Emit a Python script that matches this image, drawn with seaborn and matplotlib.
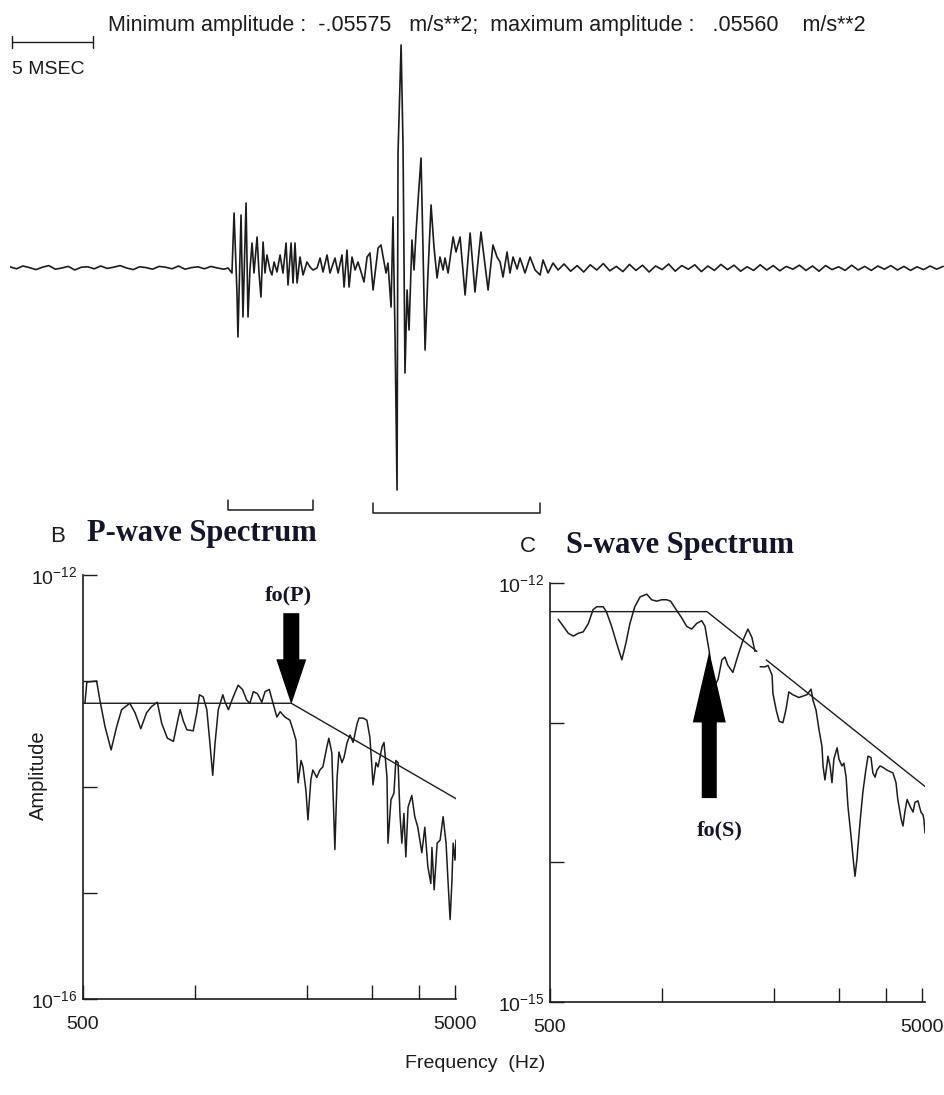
import numpy as np
import pandas as pd
import seaborn as sns
import matplotlib
matplotlib.use('Agg')
import matplotlib.pyplot as plt
from matplotlib.ticker import NullLocator

# ---- accelerogram: time in ms, acceleration in 1e-3 m/s**2 ----
pre_amp = [0.3, -0.2, 0.5, 0.1, -0.4, 0.2, 0.6, -0.3, 0.0, 0.4,
           -0.5, 0.2, 0.3, -0.2, 0.5, -0.1, 0.2, 0.6, 0.0, -0.4,
           0.3, 0.1, -0.3, 0.4, 0.2, -0.2, 0.5, -0.3, 0.1, 0.3,
           -0.2, 0.4, 0.0, -0.3]

event_time = [13.46, 13.70, 13.83, 14.01, 14.07, 14.26, 14.38, 14.57, 14.69, 14.81,
              14.94, 15.06, 15.25, 15.37, 15.49, 15.62, 15.74, 15.86, 16.05, 16.17,
              16.30, 16.48, 16.67, 16.85, 17.04, 17.16, 17.35, 17.47, 17.59, 17.72,
              17.90, 18.09, 18.33, 18.52, 18.70, 18.95, 19.14, 19.32, 19.57, 19.75,
              20.06, 20.25, 20.49, 20.62, 20.80, 20.93, 21.11, 21.30, 21.48, 21.67,
              21.85, 22.04, 22.22, 22.41, 22.72, 22.90, 23.09, 23.21, 23.33, 23.52,
              23.64, 23.77, 23.89, 23.95, 24.14, 24.26, 24.38, 24.51, 24.63, 24.81,
              24.94, 25.06, 25.19, 25.37, 25.49, 25.62, 25.80, 25.99, 26.17, 26.36,
              26.54, 26.73, 26.85, 27.04, 27.35, 27.53, 27.78, 28.09, 28.40, 28.70,
              29.07, 29.51, 29.81, 30.06, 30.25, 30.43, 30.68, 30.86, 31.05, 31.30,
              31.48, 31.79, 32.10, 32.41, 32.72, 32.90, 33.21, 33.52, 33.83]
event_amp = [0, -1.25, 13.75, -6.25, -17.25, 13.25, -12.25, 16.25, -12.25, -0.5,
             6.25, -1.25, 7.75, -1.25, -7.25, 6.5, -1.25, 3.25, -0.5, -1.75,
             1.5, -1.0, 3.25, -1.25, 6.25, -4.25, 6.25, -3.75, 6.25, -3.75,
             2.75, -1.75, 1.5, 0.25, -0.5, 0, 2.5, -1.0, 3.25, -1.25,
             2.5, -1.25, 3.25, -4.75, 4.5, -4.75, 2.75, -0.5, 1.5, -1.0,
             -3.5, 2.75, 3.75, -5.5, 5.0, 5.75, 1.5, -1.25, 1.25, -9.75,
             12.75, -18.0, -55.5, 28.75, 55.75, 30.25, -26.25, -5.5, -15.5, 7.0,
             -0.5, 8.75, 17.0, 27.5, 5.25, -20.5, -1.25, 15.75, 5.25, -2.5,
             2.75, -0.5, 2.5, -1.25, 7.75, 4.0, 7.75, -6.75, 8.75, -6.0,
             9.0, -5.5, 5.75, 2.75, 1.5, -2.25, 4.0, -1.25, 2.75, -0.25,
             2.5, -1.25, 2.75, -0.5, -1.75, 2.0, -1.25, 1.25, -0.5]

tail_amp = [1.0, -0.8, 0.6, -1.0, 0.8, -0.5, 1.1, -0.7, 0.4, -0.9,
            0.9, -0.6, 0.7, -1.0, 0.5, -0.4, 1.0, -0.8, 0.6, -0.3,
            0.8, -0.9, 0.5, -0.6, 0.9, -0.4, 0.7, -0.8, 0.3, -0.6,
            0.8, -0.5, 0.6, -0.7, 0.4, -0.3, 0.7, -0.6, 0.5, -0.8,
            0.6, -0.4, 0.3, -0.6, 0.7, -0.5, 0.4, -0.6, 0.5, -0.3,
            0.6, -0.5, 0.4, -0.6, 0.3, -0.4, 0.5, -0.3, 0.4]

# analysis windows (ms)
p_window = [13.46, 18.70]
s_window = [22.41, 32.72]

# ---- P-wave spectrum: frequency (Hz), log10 amplitude ----
p_freq = [506, 512, 544, 555, 573, 595, 616, 635, 668, 690,
          715, 741, 765, 792, 814, 843, 875, 899, 912, 931,
          951, 989, 1011, 1028, 1052, 1076, 1097, 1116, 1132, 1155,
          1188, 1205, 1230, 1267, 1306, 1342, 1377, 1405, 1435, 1472,
          1512, 1543, 1584, 1621, 1660, 1694, 1746, 1800, 1834, 1869,
          1881, 1893, 1928, 1951, 1987, 2012, 2049, 2074, 2125, 2166,
          2207, 2263, 2290, 2333, 2348, 2377, 2410, 2438, 2483, 2516,
          2564, 2612, 2661, 2729, 2760, 2831, 2898, 2952, 2990, 3010,
          3066, 3105, 3184, 3222, 3282, 3302, 3364, 3426, 3467, 3515,
          3556, 3598, 3645, 3688, 3739, 3827, 3898, 3972, 4072, 4148,
          4226, 4305, 4335, 4395, 4477, 4560, 4645, 4731, 4787, 4851,
          4907, 4943, 5000, 5031]
p_logamp = [-13.21, -13.01, -13.00, -13.18, -13.43, -13.65, -13.43, -13.27, -13.21, -13.30,
            -13.45, -13.30, -13.24, -13.20, -13.40, -13.54, -13.57, -13.37, -13.27, -13.38,
            -13.46, -13.47, -13.30, -13.13, -13.15, -13.27, -13.59, -13.89, -13.59, -13.27,
            -13.13, -13.20, -13.27, -13.15, -13.04, -13.08, -13.18, -13.21, -13.10, -13.12,
            -13.20, -13.10, -13.08, -13.21, -13.34, -13.29, -13.34, -13.37, -13.46, -13.56,
            -13.77, -13.96, -13.75, -13.81, -14.03, -14.31, -13.93, -13.84, -13.91, -13.84,
            -13.81, -13.62, -13.54, -13.68, -14.00, -14.59, -13.91, -13.67, -13.77, -13.72,
            -13.58, -13.51, -13.58, -13.40, -13.35, -13.35, -13.37, -13.53, -13.81, -13.98,
            -13.77, -13.81, -13.62, -13.58, -13.91, -14.53, -14.12, -14.06, -13.75, -13.77,
            -14.25, -14.53, -14.25, -14.66, -14.19, -14.08, -14.28, -14.38, -14.62, -14.38,
            -14.75, -14.91, -14.57, -14.97, -14.53, -14.50, -14.28, -14.53, -14.88, -15.25,
            -14.88, -14.53, -14.69, -14.50]
p_model_freq = [500, 1815, 5031]
p_model_logamp = [-13.21, -13.21, -14.11]
p_fo = 1815

# ---- S-wave spectrum (two pieces, gap near 1800 Hz) ----
s_freq_a = [526, 543, 560, 578, 596, 614, 634, 653, 668, 695,
            710, 732, 755, 780, 800, 820, 845, 873, 910, 938,
            968, 998, 1030, 1055, 1091, 1130, 1165, 1202, 1239, 1279,
            1305, 1324, 1340, 1371, 1415, 1449, 1476, 1504, 1551, 1600,
            1651, 1702, 1745, 1778]
s_logamp_a = [-12.26, -12.31, -12.36, -12.38, -12.36, -12.35, -12.29, -12.19, -12.17, -12.17,
              -12.21, -12.31, -12.43, -12.55, -12.43, -12.29, -12.17, -12.10, -12.08, -12.12,
              -12.13, -12.12, -12.12, -12.13, -12.19, -12.25, -12.31, -12.33, -12.29, -12.27,
              -12.31, -12.41, -12.49, -12.76, -12.69, -12.55, -12.53, -12.59, -12.64, -12.52,
              -12.41, -12.33, -12.39, -12.49]
s_freq_b = [1836, 1892, 1928, 1977, 1987, 2028, 2065, 2114, 2153, 2193,
            2248, 2290, 2333, 2392, 2453, 2516, 2547, 2595, 2643, 2692,
            2710, 2742, 2780, 2793, 2831, 2864, 2898, 2957, 2990, 3046,
            3083, 3126, 3162, 3222, 3267, 3303, 3342, 3388, 3427, 3467,
            3531, 3580, 3646, 3689, 3740, 3784, 3856, 3927, 4027, 4102,
            4178, 4257, 4305, 4395, 4445, 4497, 4560, 4645, 4731, 4787,
            4876, 4968, 5031, 5058, 5094]
s_logamp_b = [-12.60, -12.60, -12.59, -12.66, -12.79, -12.91, -12.99, -13.00, -12.91, -12.78,
              -12.80, -12.81, -12.82, -12.81, -12.80, -12.76, -12.84, -12.91, -13.05, -13.17,
              -13.31, -13.41, -13.29, -13.24, -13.31, -13.43, -13.26, -13.18, -13.26, -13.31,
              -13.29, -13.39, -13.60, -13.81, -13.98, -14.10, -13.98, -13.79, -13.64, -13.50,
              -13.34, -13.24, -13.25, -13.36, -13.39, -13.34, -13.31, -13.32, -13.34, -13.35,
              -13.36, -13.43, -13.55, -13.69, -13.74, -13.64, -13.55, -13.60, -13.64, -13.57,
              -13.56, -13.64, -13.66, -13.69, -13.79]
s_model_freq_a = [500, 1321, 1800]
s_model_logamp_a = [-12.205, -12.205, -12.49]
s_model_freq_b = [1906, 5094]
s_model_logamp_b = [-12.55, -13.457]
s_fo = 1340

INK = '#1c1c1c'
W, H = 944, 1095


def box(left, top, right, bottom):
    # pixel box -> figure fraction rect
    return [left / W, 1 - bottom / H, (right - left) / W, (bottom - top) / H]


def style_spectrum(ax, ymin, xmax, ylabels):
    ax.set_xscale('log')
    ax.set_yscale('log')
    ax.set_xlim(500, xmax)
    ax.set_ylim(ymin, 1e-12)
    ax.set_xticks([500, 1000, 2000, 3000, 4000, 5000],
                  labels=['500', '', '', '', '', '5000'])
    decades = [10.0 ** e for e in range(int(round(np.log10(ymin))), -11)]
    ax.set_yticks(decades, labels=ylabels)
    ax.xaxis.set_minor_locator(NullLocator())
    ax.yaxis.set_minor_locator(NullLocator())
    ax.tick_params(axis='both', which='major', direction='in', length=10, width=1.0,
                   color=INK, labelcolor=INK, labelsize=14,
                   bottom=True, left=True, top=False, right=False)
    ax.tick_params(axis='x', pad=12)
    ax.tick_params(axis='y', pad=4)
    for side in ['top', 'right']:
        ax.spines[side].set_visible(False)
    for side in ['left', 'bottom']:
        ax.spines[side].set_linewidth(1.2)
        ax.spines[side].set_color(INK)
    ax.set_xlabel('')
    ax.set_ylabel('')


sns.set_style('white')
plt.rcParams['font.family'] = ['Liberation Sans', 'DejaVu Sans']
plt.rcParams['mathtext.fontset'] = 'custom'
plt.rcParams['mathtext.rm'] = 'Liberation Sans'

fig = plt.figure(figsize=(9.44, 10.95), dpi=100)

# ---- waveform panel ----
wave = pd.DataFrame({
    'time': np.concatenate([np.linspace(0, 13.2, len(pre_amp)), event_time,
                            np.linspace(34.2, 57.6, len(tail_amp))]),
    'accel': np.concatenate([pre_amp, event_amp, tail_amp]) * 1e-3,
})
ax_w = fig.add_axes(box(10, 30, 944, 520))
sns.lineplot(data=wave, x='time', y='accel', ax=ax_w, color=INK,
             linewidth=1.2, estimator=None, sort=False)
ax_w.set_xlim(0, 57.65)
ax_w.set_ylim(-0.063, 0.0595)
ax_w.axis('off')

# 5 ms scale bar
bar_y = 0.0565
ax_w.plot([0.12, 5.12], [bar_y, bar_y], color=INK, lw=1.0)
for t in [0.12, 5.12]:
    ax_w.plot([t, t], [bar_y - 0.0015, bar_y + 0.0015], color=INK, lw=1.0)

# window brackets below the trace
for (t0, t1), (top, bot) in zip([p_window, s_window],
                                [(-0.058, -0.0605), (-0.0588, -0.0613)]):
    ax_w.plot([t0, t0, t1, t1], [top, bot, bot, top], color=INK, lw=1.1)

fig.text(12 / W, 1 - 70 / H, '5 MSEC', fontsize=14, color=INK,
         ha='left', va='center')
fig.text(108 / W, 1 - 25 / H,
         'Minimum amplitude :  -.05575   m/s**2;  maximum amplitude :   .05560    m/s**2',
         fontsize=15.5, color=INK, ha='left', va='center')

# ---- P-wave spectrum ----
ax_p = fig.add_axes(box(83, 575, 456, 999))
style_spectrum(ax_p, 1e-16, 5031, [r'$\mathregular{10^{-16}}$', '', '', '',
                                   r'$\mathregular{10^{-12}}$'])
sns.lineplot(x=p_freq, y=10 ** np.array(p_logamp), ax=ax_p, color=INK,
             linewidth=1.1, estimator=None, sort=False)
sns.lineplot(x=p_model_freq, y=10 ** np.array(p_model_logamp), ax=ax_p,
             color=INK, linewidth=1.0, estimator=None, sort=False)
ax_p.annotate('', xy=(p_fo, 10 ** -13.22), xytext=(p_fo, 10 ** -12.36),
              arrowprops=dict(arrowstyle='simple,head_length=0.9,head_width=0.6,tail_width=0.32',
                              mutation_scale=36, color='black', lw=0,
                              shrinkA=0, shrinkB=0))

# ---- S-wave spectrum ----
ax_s = fig.add_axes(box(550, 583, 925, 1002))
style_spectrum(ax_s, 1e-15, 5094, [r'$\mathregular{10^{-15}}$', '', '',
                                   r'$\mathregular{10^{-12}}$'])
for fq, la in [(s_freq_a, s_logamp_a), (s_freq_b, s_logamp_b)]:
    sns.lineplot(x=fq, y=10 ** np.array(la), ax=ax_s, color=INK,
                 linewidth=1.1, estimator=None, sort=False)
for fq, la in [(s_model_freq_a, s_model_logamp_a), (s_model_freq_b, s_model_logamp_b)]:
    sns.lineplot(x=fq, y=10 ** np.array(la), ax=ax_s, color=INK,
                 linewidth=1.0, estimator=None, sort=False)
ax_s.annotate('', xy=(s_fo, 10 ** -12.49), xytext=(s_fo, 10 ** -13.54),
              arrowprops=dict(arrowstyle='simple,head_length=1.42,head_width=0.66,tail_width=0.30',
                              mutation_scale=36, color='black', lw=0,
                              shrinkA=0, shrinkB=0))

# ---- titles and labels ----
serif = ['Liberation Serif', 'DejaVu Serif']
fig.text(50 / W, 1 - 542 / H, 'B', fontsize=16, color=INK, ha='left', va='baseline')
fig.text(87 / W, 1 - 541 / H, 'P-wave Spectrum', fontsize=22, fontweight='bold',
         family=serif, color='#14142a', ha='left', va='baseline')
fig.text(520 / W, 1 - 552 / H, 'C', fontsize=16, color=INK, ha='left', va='baseline')
fig.text(566 / W, 1 - 553 / H, 'S-wave Spectrum', fontsize=22, fontweight='bold',
         family=serif, color='#14142a', ha='left', va='baseline')
fig.text(288 / W, 1 - 600 / H, 'fo(P)', fontsize=16, fontweight='bold',
         family=serif, color='#14142a', ha='center', va='baseline')
fig.text(720 / W, 1 - 835 / H, 'fo(S)', fontsize=16, fontweight='bold',
         family=serif, color='#14142a', ha='center', va='baseline')
fig.text(475 / W, 1 - 1063 / H, 'Frequency  (Hz)', fontsize=14, color=INK,
         ha='center', va='center')
fig.text(38 / W, 1 - 775 / H, 'Amplitude', fontsize=14.5, color=INK,
         ha='center', va='center', rotation=90)

fig.savefig('out.png', dpi=100, facecolor='white')
